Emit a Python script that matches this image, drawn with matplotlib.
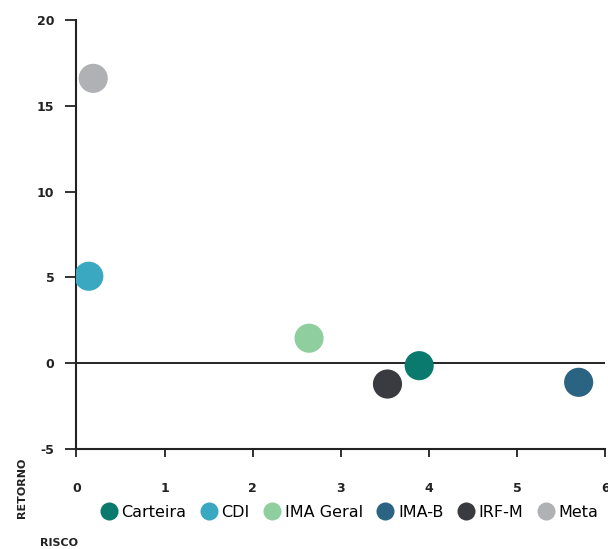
import matplotlib
matplotlib.use("Agg")
import matplotlib.pyplot as plt
from matplotlib.lines import Line2D

plt.rcParams["axes.unicode_minus"] = False

# risco x retorno
names = ["Carteira", "CDI", "IMA Geral", "IMA-B", "IRF-M", "Meta"]
risco = [3.89, 0.14, 2.64, 5.70, 3.53, 0.19]
retorno = [-0.14, 5.07, 1.46, -1.11, -1.21, 16.6]
colors = ["#0b7a6e", "#3aa8c0", "#8fcf9f", "#2a6482", "#3a3b40", "#b0b1b5"]

x_ticks = [0, 1, 2, 3, 4, 5, 6]
y_ticks = [-5, 0, 5, 10, 15, 20]

fig = plt.figure(figsize=(6.08, 5.49), dpi=100)
ax = fig.add_axes([0.1258, 0.182, 0.8694, 0.7816])

for name, x, y, c in zip(names, risco, retorno, colors):
    ax.scatter(x, y, s=440, color=c, edgecolors="none", zorder=3, label=name)

ax.axhline(0, color="black", lw=1.2, zorder=2)

ax.set_xlim(0, 6)
ax.set_ylim(-5, 20)
ax.set_xticks(x_ticks)
ax.set_yticks(y_ticks)

for side in ["top", "right"]:
    ax.spines[side].set_visible(False)
for side in ["left", "bottom"]:
    ax.spines[side].set_linewidth(1.5)
    ax.spines[side].set_color("#222222")

ax.tick_params(axis="x", length=6, width=1.3, pad=18, labelsize=9, colors="#222222")
ax.tick_params(axis="y", length=8, width=1.3, pad=8, labelsize=9, colors="#222222")
for lbl in ax.get_xticklabels() + ax.get_yticklabels():
    lbl.set_fontweight("bold")

handles = [Line2D([], [], marker="o", ls="none", markersize=13,
                  markerfacecolor=c, markeredgecolor="none") for c in colors]
fig.legend(handles, names, loc="center", bbox_to_anchor=(0.575, 0.067), ncol=6,
           frameon=False, fontsize=11.5, handletextpad=0.3, columnspacing=0.9,
           handlelength=1.0)

fig.text(0.036, 0.111, "RETORNO", rotation=90, fontsize=8, fontweight="bold",
         ha="center", va="center", color="#222222")
fig.text(0.066, 0.011, "RISCO", fontsize=8, fontweight="bold",
         ha="left", va="center", color="#222222")

fig.savefig("out.png", dpi=100)
